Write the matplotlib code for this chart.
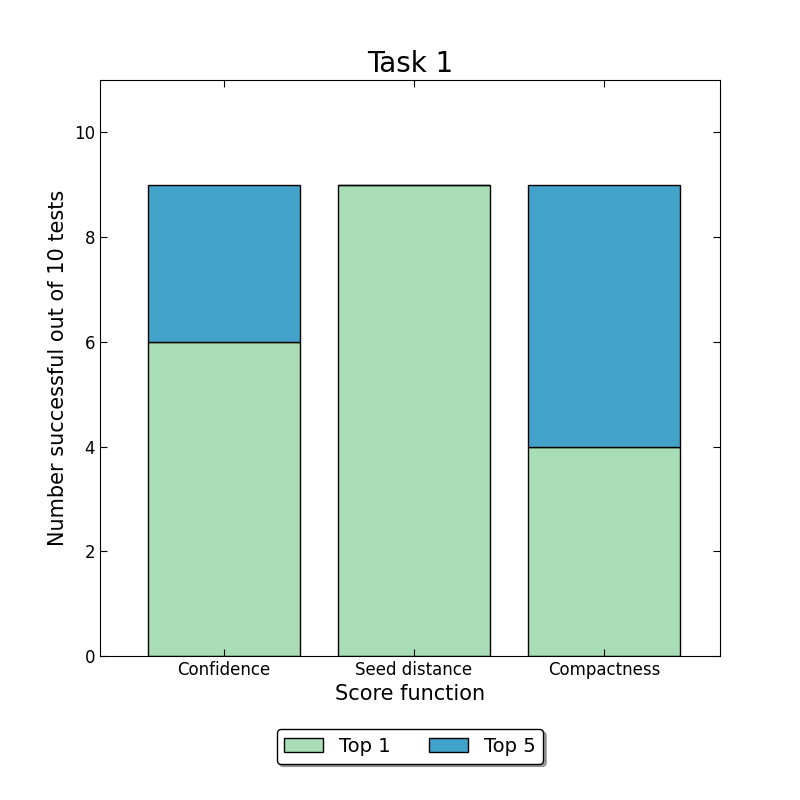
import numpy as np
import matplotlib
matplotlib.use("Agg")
import matplotlib.pyplot as plt

categories = ["Confidence", "Seed distance", "Compactness"]
top1 = [6, 9, 4]
top5 = [9, 9, 9]

def main():
    top1_arr = np.array(top1)
    extra = np.array(top5) - top1_arr
    x = np.arange(len(categories))

    fig = plt.figure(figsize=(8, 8), dpi=100)
    ax = fig.add_axes([0.125, 0.18, 0.775, 0.72])
    ax.bar(x, top1_arr, width=0.8, color="#a8ddb5", edgecolor="black", label="Top 1")
    ax.bar(x, extra, width=0.8, bottom=top1_arr, color="#43a2ca", edgecolor="black", label="Top 5")

    ax.set_xlim(-0.65, 2.61)
    ax.set_ylim(0, 11)
    ax.set_yticks(range(0, 11, 2))
    ax.set_xticks(x)
    ax.set_xticklabels(categories, fontsize=12)
    ax.tick_params(axis="y", labelsize=12, direction="in", right=True, length=5)
    ax.tick_params(axis="x", direction="in", top=True, length=5)
    ax.set_xlabel("Score function", fontsize=15)
    ax.set_ylabel("Number successful out of 10 tests", fontsize=15)
    ax.set_title("Task 1", fontsize=20)

    leg = ax.legend(loc="upper center", bbox_to_anchor=(0.5, -0.11), ncol=2,
                    fontsize=14, shadow=True, fancybox=True, framealpha=1)
    leg.get_frame().set_edgecolor("black")

    fig.savefig("out.png")

if __name__ == "__main__":
    main()
